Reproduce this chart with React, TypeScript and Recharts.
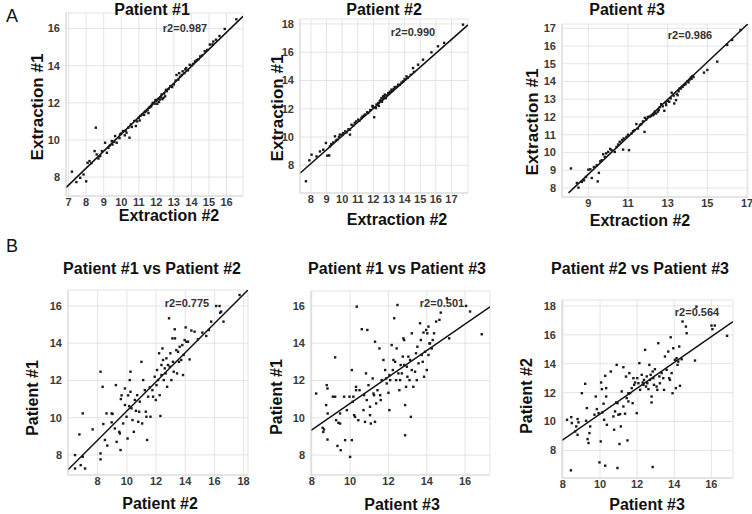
import React from "react";
import {
  ScatterChart,
  Scatter,
  XAxis,
  YAxis,
  CartesianGrid,
  ReferenceLine,
} from "recharts";

// ---- data: [x, y] pairs ----
const pat1Ext: [number, number][] = [
  [7.19, 8.29], [7.44, 7.73], [7.66, 7.96], [7.85, 8.14], [8.0, 7.77], [8.08, 8.77],
  [8.19, 8.86], [8.3, 8.75], [8.48, 9.4], [8.55, 10.66], [8.6, 9.22], [8.7, 9.0],
  [8.8, 9.13], [8.9, 9.4], [9.08, 9.85], [9.18, 9.31], [9.27, 9.58], [9.35, 9.7],
  [9.46, 9.94], [9.5, 9.75], [9.6, 9.9], [9.65, 10.21], [9.74, 9.85], [9.9, 10.1],
  [9.93, 10.3], [10.0, 10.35], [10.1, 10.48], [10.2, 10.25], [10.25, 10.5], [10.3, 10.39],
  [10.4, 10.66], [10.47, 10.12], [10.55, 10.84], [10.6, 10.7], [10.74, 11.02], [10.83, 10.75],
  [10.9, 11.0], [11.0, 11.2], [11.05, 11.05], [11.1, 11.3], [11.2, 11.37], [11.3, 11.35],
  [11.35, 11.5], [11.4, 11.55], [11.5, 11.6], [11.55, 11.45], [11.6, 11.73], [11.7, 11.8],
  [11.75, 11.9], [11.8, 12.0], [11.9, 11.95], [11.95, 12.15], [12.0, 12.1], [12.05, 11.95],
  [12.1, 12.2], [12.15, 12.05], [12.2, 12.18], [12.25, 12.3], [12.3, 12.45], [12.35, 12.2],
  [12.4, 12.27], [12.45, 12.5], [12.5, 12.35], [12.55, 12.7], [12.6, 12.63], [12.7, 12.75],
  [12.8, 12.9], [12.9, 12.85], [13.0, 12.99], [13.1, 13.2], [13.15, 13.5], [13.25, 13.25],
  [13.3, 13.6], [13.35, 13.4], [13.45, 13.5], [13.5, 13.7], [13.6, 13.6], [13.65, 13.8],
  [13.7, 13.87], [13.8, 13.75], [13.9, 14.05], [14.0, 14.0], [14.1, 14.1], [14.2, 14.23],
  [14.3, 14.3], [14.4, 14.35], [14.5, 14.5], [14.6, 14.55], [14.76, 14.78], [14.9, 14.85],
  [15.05, 15.14], [15.2, 15.15], [15.25, 15.3], [15.4, 15.4], [15.6, 15.6], [15.9, 15.98],
  [16.56, 16.5],
];

const pat2Ext: [number, number][] = [
  [7.68, 6.87], [7.9, 8.35], [8.04, 8.75], [8.36, 8.63], [8.58, 8.98], [8.79, 9.1],
  [8.96, 9.58], [9.05, 8.68], [9.17, 8.7], [9.22, 9.34], [9.3, 9.5], [9.43, 9.62],
  [9.54, 10.05], [9.6, 9.75], [9.68, 9.81], [9.8, 10.0], [9.85, 10.17], [10.0, 10.15],
  [10.06, 10.28], [10.2, 10.4], [10.28, 10.33], [10.4, 10.55], [10.5, 10.17], [10.5, 10.52],
  [10.6, 10.87], [10.7, 10.8], [10.81, 11.0], [10.9, 11.1], [11.03, 11.23], [11.1, 11.15],
  [11.24, 11.35], [11.3, 11.45], [11.4, 11.5], [11.45, 11.59], [11.6, 11.75], [11.67, 11.7],
  [11.8, 11.9], [11.94, 12.17], [11.95, 12.2], [12.0, 12.1], [12.05, 11.4], [12.16, 12.05],
  [12.2, 12.3], [12.3, 12.4], [12.35, 12.2], [12.41, 12.52], [12.45, 12.6], [12.52, 12.76],
  [12.55, 12.5], [12.6, 12.7], [12.63, 12.88], [12.7, 12.85], [12.73, 13.0], [12.8, 12.75],
  [12.85, 12.95], [12.95, 13.1], [13.0, 13.05], [13.05, 13.2], [13.16, 13.35], [13.2, 13.25],
  [13.3, 13.4], [13.37, 13.54], [13.5, 13.55], [13.59, 13.7], [13.7, 13.7], [13.8, 13.85],
  [13.9, 13.94], [14.0, 14.1], [14.12, 14.29], [14.2, 14.2], [14.4, 14.4], [14.54, 14.88],
  [14.6, 14.6], [14.86, 15.12], [15.18, 15.47], [15.72, 15.99], [16.14, 16.42], [16.53, 16.66],
  [17.74, 17.95],
];

const pat3Ext: [number, number][] = [
  [8.12, 9.1], [8.42, 8.28], [8.5, 8.02], [8.67, 8.34], [8.78, 8.43], [8.88, 8.62],
  [9.0, 9.03], [9.1, 9.05], [9.17, 8.56], [9.28, 9.18], [9.42, 9.28], [9.47, 8.37],
  [9.53, 8.85], [9.6, 9.5], [9.67, 9.56], [9.75, 9.9], [9.83, 9.75], [9.9, 9.95],
  [10.0, 10.03], [10.1, 10.2], [10.17, 10.13], [10.33, 10.03], [10.42, 10.31], [10.5, 10.45],
  [10.58, 10.6], [10.7, 10.7], [10.75, 10.16], [10.78, 10.79], [10.92, 10.88], [11.0, 11.0],
  [11.05, 10.13], [11.17, 11.07], [11.25, 11.2], [11.33, 11.26], [11.42, 11.6], [11.5, 11.35],
  [11.6, 11.55], [11.67, 11.6], [11.75, 11.75], [11.83, 11.16], [11.85, 11.95], [11.92, 11.86],
  [12.0, 12.0], [12.08, 12.01], [12.15, 12.05], [12.25, 12.1], [12.3, 12.15], [12.35, 12.3],
  [12.42, 12.2], [12.5, 12.3], [12.55, 12.39], [12.6, 12.55], [12.67, 12.72], [12.75, 12.6],
  [12.83, 12.35], [12.9, 12.8], [12.92, 12.67], [13.0, 12.9], [13.08, 12.86], [13.15, 13.05],
  [13.2, 13.37], [13.3, 13.2], [13.33, 12.76], [13.42, 12.95], [13.45, 13.3], [13.5, 13.23],
  [13.55, 13.45], [13.6, 13.6], [13.67, 13.61], [13.75, 13.7], [13.83, 13.8], [13.9, 13.85],
  [14.0, 14.02], [14.05, 13.95], [14.1, 14.1], [14.17, 14.23], [14.2, 14.15], [14.25, 14.31],
  [14.3, 14.25], [14.83, 14.5], [15.0, 14.65], [15.5, 15.12], [16.0, 16.06], [16.25, 16.34],
  [16.67, 16.9],
];

const p1VsP2: [number, number][] = [
  [6.45, 7.99], [6.45, 7.27], [6.84, 7.45], [6.98, 7.9], [7.14, 7.27], [6.75, 9.1],
  [6.98, 10.23], [7.66, 9.37], [8.2, 12.47], [8.34, 11.66], [8.2, 8.08], [8.2, 7.76],
  [8.39, 9.66], [8.5, 8.8], [8.66, 8.5], [8.61, 10.23], [8.96, 10.23], [9.02, 10.2],
  [8.96, 9.75], [9.25, 11.75], [9.18, 9.42], [9.3, 8.7], [9.48, 9.24], [9.52, 9.15],
  [9.57, 8.26], [9.59, 11.0], [9.64, 11.2], [9.75, 9.69], [9.87, 11.57], [9.87, 10.68],
  [9.98, 10.05], [10.05, 8.88], [10.09, 11.2], [10.16, 10.62], [10.2, 12.02], [10.25, 11.39],
  [10.25, 12.47], [10.32, 10.5], [10.39, 9.87], [10.48, 9.24], [10.55, 10.95], [10.62, 10.37],
  [10.71, 11.21], [10.78, 9.78], [10.84, 10.32], [10.89, 10.86], [11.0, 13.0], [11.05, 9.69],
  [11.12, 12.02], [11.23, 11.48], [11.3, 10.32], [11.34, 10.05], [11.39, 8.8], [11.46, 11.13],
  [11.57, 11.63], [11.62, 10.05], [11.75, 11.48], [11.8, 11.13], [11.91, 12.2], [11.98, 10.95],
  [12.03, 11.75], [12.07, 12.56], [12.14, 12.02], [12.21, 13.46], [12.25, 11.21], [12.3, 10.09],
  [12.37, 12.83], [12.37, 12.29], [12.44, 13.72], [12.48, 13.1], [12.53, 12.02], [12.6, 12.65],
  [12.66, 12.38], [12.71, 13.19], [12.76, 11.66], [12.82, 12.83], [12.89, 15.34], [12.94, 12.74],
  [12.98, 13.46], [13.05, 12.02], [13.12, 14.26], [13.16, 13.0], [13.21, 12.47], [13.28, 14.75],
  [13.3, 14.26], [13.39, 13.63], [13.44, 12.38], [13.51, 13.54], [13.57, 13.0], [13.62, 13.81],
  [13.73, 13.1], [13.8, 13.9], [13.85, 12.29], [13.89, 13.37], [13.96, 14.17], [14.03, 14.85],
  [14.08, 14.08], [14.19, 14.08], [14.3, 13.13], [14.42, 14.68], [14.64, 14.62], [14.87, 14.21],
  [15.17, 14.57], [15.44, 14.39], [15.62, 14.71], [15.78, 15.16], [16.12, 16.0], [16.35, 16.0],
  [16.39, 15.64], [16.46, 15.7], [16.62, 15.16], [17.72, 16.59],
];

const p1VsP3: [number, number][] = [
  [8.23, 11.3], [8.75, 10.68], [8.78, 11.75], [8.82, 11.57], [8.82, 8.83], [8.83, 10.23],
  [8.57, 9.46], [8.6, 9.24], [8.64, 9.37], [9.1, 11.13], [9.22, 13.24], [9.27, 9.87],
  [9.34, 8.49], [9.39, 9.73], [9.48, 9.69], [9.51, 8.26], [9.48, 10.23], [9.22, 11.13],
  [9.69, 11.13], [9.74, 8.8], [9.83, 10.41], [9.97, 11.13], [10.0, 7.9], [10.09, 8.8],
  [10.09, 12.56], [10.14, 10.86], [10.17, 11.13], [10.21, 10.14], [10.26, 10.05], [10.31, 11.48],
  [10.35, 15.96], [10.31, 11.66], [10.43, 9.87], [10.49, 11.48], [10.61, 14.75], [10.7, 10.41],
  [10.73, 11.21], [10.78, 9.78], [10.83, 12.38], [10.87, 10.95], [10.9, 14.71], [10.96, 11.75],
  [11.04, 10.59], [11.04, 10.14], [11.08, 9.69], [11.18, 12.11], [11.22, 11.3], [11.25, 11.21],
  [11.3, 14.08], [11.3, 9.78], [11.36, 10.77], [11.43, 11.48], [11.53, 13.72], [11.57, 11.21],
  [11.6, 10.95], [11.65, 12.02], [11.74, 13.1], [11.83, 12.56], [11.88, 12.11], [11.91, 11.84],
  [12.0, 11.34], [12.05, 10.41], [12.05, 12.29], [12.09, 12.02], [12.17, 13.9], [12.23, 12.56],
  [12.26, 13.1], [12.3, 15.34], [12.35, 13.0], [12.4, 12.02], [12.43, 13.72], [12.47, 16.05],
  [12.52, 12.38], [12.57, 11.48], [12.61, 12.02], [12.64, 12.83], [12.7, 12.38], [12.75, 13.28],
  [12.78, 14.26], [12.82, 14.17], [12.82, 12.83], [12.87, 9.06], [12.87, 10.68], [12.92, 11.66],
  [12.96, 12.74], [12.99, 12.2], [13.04, 13.28], [13.1, 12.02], [13.13, 13.1], [13.17, 10.05],
  [13.22, 14.53], [13.22, 12.56], [13.3, 11.66], [13.39, 12.47], [13.44, 13.46], [13.48, 12.02],
  [13.51, 13.81], [13.57, 12.92], [13.65, 15.07], [13.69, 14.17], [13.74, 13.37], [13.79, 13.0],
  [13.83, 14.57], [13.86, 12.2], [13.91, 13.54], [13.97, 14.71], [14.0, 12.56], [14.03, 14.53],
  [14.09, 14.89], [14.09, 13.37], [14.14, 13.99], [14.17, 13.99], [14.26, 13.72], [14.31, 14.17],
  [14.38, 14.53], [14.49, 15.16], [14.66, 15.25], [14.73, 15.64], [15.05, 16.4], [15.17, 14.26],
  [16.05, 16.0], [16.26, 15.7], [16.87, 14.48],
];

const p2VsP3: [number, number][] = [
  [8.22, 10.12], [8.45, 10.3], [8.48, 9.89], [8.43, 6.62], [8.66, 9.31], [8.72, 9.66],
  [8.79, 10.17], [8.84, 9.94], [8.79, 9.08], [9.02, 11.96], [9.2, 12.61], [9.25, 10.05],
  [9.29, 10.93], [9.33, 8.78], [9.38, 8.51], [9.43, 9.2], [9.47, 9.66], [9.7, 10.47],
  [9.77, 11.73], [9.83, 10.86], [9.92, 10.58], [9.97, 7.17], [10.04, 8.62], [10.06, 12.7],
  [10.1, 12.24], [10.13, 10.63], [10.19, 11.23], [10.22, 10.12], [10.28, 6.94], [10.28, 13.16],
  [10.33, 12.31], [10.33, 11.73], [10.37, 9.77], [10.58, 13.46], [10.72, 10.35], [10.76, 9.43],
  [10.81, 10.7], [10.87, 11.32], [10.9, 13.92], [10.94, 11.27], [10.94, 6.78], [10.99, 10.47],
  [11.05, 8.44], [11.08, 10.51], [11.12, 9.66], [11.17, 12.08], [11.26, 11.04], [11.26, 13.76],
  [11.35, 10.54], [11.4, 13.11], [11.44, 11.62], [11.48, 8.69], [11.53, 11.96], [11.53, 11.39],
  [11.58, 13.35], [11.62, 11.96], [11.71, 12.31], [11.76, 11.27], [11.8, 13.0], [11.84, 12.54],
  [11.89, 12.7], [11.98, 10.58], [12.01, 13.0], [12.07, 12.65], [12.12, 14.04], [12.16, 12.19],
  [12.25, 13.23], [12.3, 12.7], [12.34, 12.54], [12.37, 12.88], [12.43, 14.96], [12.48, 12.42],
  [12.52, 13.12], [12.55, 12.65], [12.61, 12.24], [12.66, 13.92], [12.7, 12.88], [12.73, 13.23],
  [12.78, 11.73], [12.78, 11.32], [12.84, 6.85], [12.84, 13.46], [12.87, 13.0], [12.91, 12.54],
  [12.96, 13.62], [13.05, 12.42], [13.09, 12.19], [13.14, 15.42], [13.2, 13.12], [13.23, 12.65],
  [13.32, 13.35], [13.41, 13.0], [13.45, 12.19], [13.5, 14.5], [13.59, 13.58], [13.68, 14.84],
  [13.73, 13.0], [13.77, 12.88], [13.81, 15.83], [13.86, 13.35], [13.91, 11.96], [13.95, 15.07],
  [14.04, 14.27], [14.09, 12.31], [14.13, 14.38], [14.18, 13.92], [14.22, 14.15], [14.27, 15.19],
  [14.31, 12.47], [14.4, 14.31], [14.45, 16.92], [14.63, 16.57], [14.67, 16.11], [15.12, 14.22],
  [15.2, 17.95], [16.01, 16.64], [16.06, 16.39], [16.19, 16.64], [16.85, 15.93],
];

// regression line end points
const fit1: [number, number][] = [[6.85, 7.43], [16.94, 16.66]];
const fit2: [number, number][] = [[7.3, 7.44], [18.06, 17.93]];
const fit3: [number, number][] = [[8.0, 7.72], [17.05, 17.25]];
const fit12: [number, number][] = [[5.97, 7.2], [18.3, 16.86]];
const fit13: [number, number][] = [[7.96, 9.32], [17.3, 15.95]];
const fit23: [number, number][] = [[7.95, 8.69], [17.17, 16.92]];

// tick labels
const ticksA1x = [7, 8, 9, 10, 11, 12, 13, 14, 15, 16];
const ticksA2x = [8, 9, 10, 11, 12, 13, 14, 15, 16, 17];
const ticksA3x = [9, 11, 13, 15, 17];
const ticksA1y = [8, 10, 12, 14, 16];
const ticksA2y = [8, 10, 12, 14, 16, 18];
const ticksA3y = [8, 9, 10, 11, 12, 13, 14, 15, 16, 17];
const ticksB1x = [8, 10, 12, 14, 16, 18];
const ticksB2x = [8, 10, 12, 14, 16];
const ticksB1y = [8, 10, 12, 14, 16];
const ticksB3y = [8, 10, 12, 14, 16, 18];

const r2Values = ["r2=0.987", "r2=0.990", "r2=0.986", "r2=0.775", "r2=0.501", "r2=0.564"];

const FONT = "'Liberation Sans', Arial, Helvetica, sans-serif";
const YW = 40;
const PAD = 5;
const XH = 25;

type PanelProps = {
  box: [number, number, number, number]; // plot left, top, right, bottom in px
  xDomain: [number, number];
  yDomain: [number, number];
  xTicks: number[];
  yTicks: number[];
  points: [number, number][];
  fit: [number, number][];
};

const Dot = (props: any) => {
  const { cx, cy } = props;
  if (cx == null || cy == null) return null;
  return <rect x={cx - 1.2} y={cy - 1.2} width={2.4} height={2.4} fill="#1a1a1a" />;
};

const Panel = ({ box, xDomain, yDomain, xTicks, yTicks, points, fit }: PanelProps) => {
  const [l, t, r, b] = box;
  const w = r - l + YW + PAD;
  const h = b - t + PAD + XH;
  const data = points.map(([x, y]) => ({ x, y }));
  const tick = { fontSize: 11, fontWeight: 700, fill: "#3a3a3a", fontFamily: FONT };
  return (
    <div style={{ position: "absolute", left: l - YW, top: t - PAD }}>
      <ScatterChart width={w} height={h} margin={{ top: PAD, right: PAD, left: 0, bottom: 0 }}>
        <CartesianGrid stroke="#e4e4e4" strokeWidth={1} />
        <XAxis
          type="number"
          dataKey="x"
          domain={xDomain}
          ticks={xTicks}
          allowDataOverflow
          interval={0}
          height={XH}
          tick={tick}
          tickLine={false}
          tickSize={1}
          tickMargin={1}
          axisLine={{ stroke: "#d8d8d8" }}
        />
        <YAxis
          type="number"
          dataKey="y"
          domain={yDomain}
          ticks={yTicks}
          allowDataOverflow
          interval={0}
          width={YW}
          tick={tick}
          tickLine={false}
          tickSize={3}
          tickMargin={3}
          axisLine={{ stroke: "#d8d8d8" }}
        />
        <Scatter data={data} shape={Dot} isAnimationActive={false} />
        <ReferenceLine
          segment={[
            { x: fit[0][0], y: fit[0][1] },
            { x: fit[1][0], y: fit[1][1] },
          ]}
          stroke="#111"
          strokeWidth={1.5}
          ifOverflow="hidden"
        />
      </ScatterChart>
    </div>
  );
};

const Txt = ({ x, y, size, bold = true, children, rotate = false, color = "#111" }: any) => (
  <div
    style={{
      position: "absolute",
      left: x,
      top: y,
      transform: `translate(-50%, -50%)${rotate ? " rotate(-90deg)" : ""}`,
      fontSize: size,
      fontWeight: bold ? 700 : 400,
      whiteSpace: "nowrap",
      color,
      lineHeight: 1,
    }}
  >
    {children}
  </div>
);

export default function App() {
  return (
    <div
      style={{
        position: "absolute",
        left: 0,
        top: 0,
        width: 752,
        height: 514,
        background: "#fff",
        fontFamily: FONT,
        overflow: "hidden",
      }}
    >
      <Panel box={[66, 13, 243, 196]} xDomain={[6.85, 16.94]} yDomain={[6.98, 16.84]}
        xTicks={ticksA1x} yTicks={ticksA1y} points={pat1Ext} fit={fit1} />
      <Panel box={[300, 19, 468, 193]} xDomain={[7.3, 18.06]} yDomain={[6.04, 18.35]}
        xTicks={ticksA2x} yTicks={ticksA2y} points={pat2Ext} fit={fit2} />
      <Panel box={[562, 24, 748, 197]} xDomain={[7.67, 17.05]} yDomain={[7.49, 17.24]}
        xTicks={ticksA3x} yTicks={ticksA3y} points={pat3Ext} fit={fit3} />
      <Panel box={[68, 290, 248, 475]} xDomain={[5.97, 18.3]} yDomain={[6.92, 16.86]}
        xTicks={ticksB1x} yTicks={ticksB1y} points={p1VsP2} fit={fit12} />
      <Panel box={[311, 291, 490, 475]} xDomain={[7.96, 17.3]} yDomain={[6.93, 16.8]}
        xTicks={ticksB2x} yTicks={ticksB1y} points={p1VsP3} fit={fit13} />
      <Panel box={[562, 300, 733, 478]} xDomain={[7.95, 17.17]} yDomain={[6.09, 18.41]}
        xTicks={ticksB2x} yTicks={ticksB3y} points={p2VsP3} fit={fit23} />

      <Txt x={12} y={16} size={18} bold={false}>A</Txt>
      <Txt x={12} y={246} size={18} bold={false}>B</Txt>

      <Txt x={152} y={10} size={16}>Patient #1</Txt>
      <Txt x={384} y={10} size={16}>Patient #2</Txt>
      <Txt x={627} y={10} size={16}>Patient #3</Txt>
      <Txt x={152} y={269} size={16}>Patient #1 vs Patient #2</Txt>
      <Txt x={397} y={269} size={16}>Patient #1 vs Patient #3</Txt>
      <Txt x={640} y={269} size={16}>Patient #2 vs Patient #3</Txt>

      <Txt x={169} y={216} size={16}>Extraction #2</Txt>
      <Txt x={397} y={220} size={16}>Extraction #2</Txt>
      <Txt x={640} y={221} size={16}>Extraction #2</Txt>
      <Txt x={37} y={107} size={17} rotate>Extraction #1</Txt>
      <Txt x={277} y={108} size={17} rotate>Extraction #1</Txt>
      <Txt x={532} y={122} size={17} rotate>Extraction #1</Txt>

      <Txt x={160} y={504} size={16}>Patient #2</Txt>
      <Txt x={402} y={505} size={16}>Patient #3</Txt>
      <Txt x={647} y={505} size={16}>Patient #3</Txt>
      <Txt x={33} y={398} size={16} rotate>Patient #1</Txt>
      <Txt x={277} y={397} size={16} rotate>Patient #1</Txt>
      <Txt x={527} y={396} size={16} rotate>Patient #2</Txt>

      <Txt x={185} y={28} size={11} color="#333">{r2Values[0]}</Txt>
      <Txt x={413} y={32} size={11} color="#333">{r2Values[1]}</Txt>
      <Txt x={690} y={35} size={11} color="#333">{r2Values[2]}</Txt>
      <Txt x={187} y={303} size={11} color="#333">{r2Values[3]}</Txt>
      <Txt x={442} y={303} size={11} color="#333">{r2Values[4]}</Txt>
      <Txt x={697} y={312} size={11} color="#333">{r2Values[5]}</Txt>
    </div>
  );
}
